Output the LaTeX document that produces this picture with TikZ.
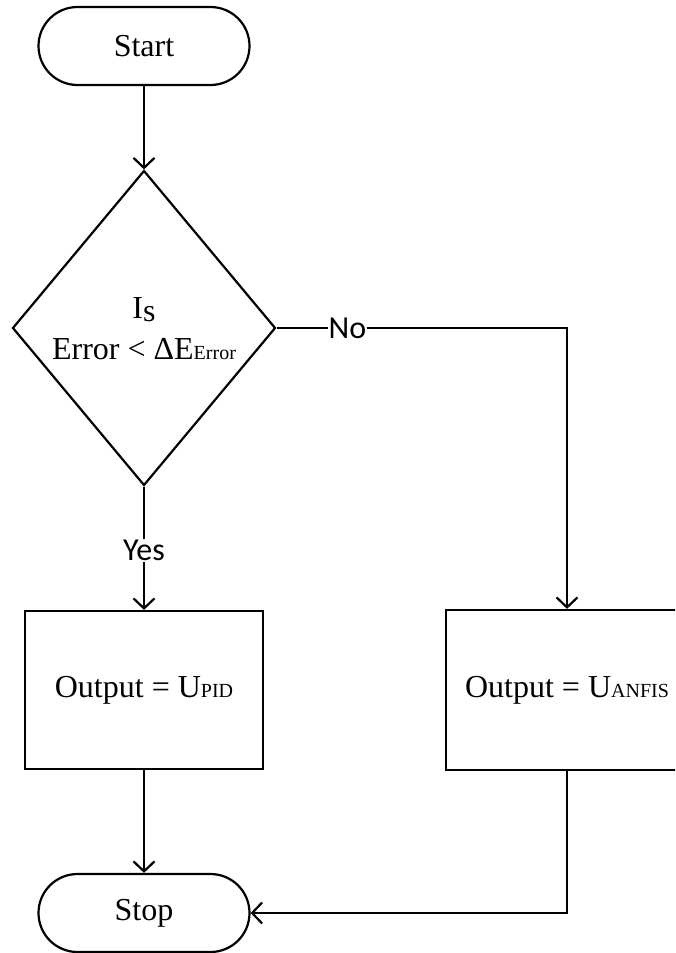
\documentclass[tikz,border=0pt]{standalone}
\usepackage{fontspec}
\setmainfont{Liberation Serif}
\newfontfamily\labfont{Carlito}
\usetikzlibrary{shapes.geometric,arrows.meta}

\tikzset{
  every picture/.style={line width=2.2pt},
  terminal/.style={draw, rounded corners=39pt, minimum width=211pt, minimum height=78pt,
                   inner sep=0pt, font=\fontsize{32}{38}\selectfont},
  process/.style={draw, minimum width=238pt, minimum height=158pt, inner sep=0pt,
                  font=\fontsize{32}{38}\selectfont},
  decision/.style={draw, diamond, minimum width=263pt, minimum height=315pt, inner sep=0pt},
  condtext/.style={anchor=base, inner sep=0pt, font=\fontsize{32}{38}\selectfont},
  flow/.style={-{Straight Barb[length=10pt,width=21pt]}},
  branch/.style={fill=white, inner sep=1pt, font=\labfont\fontsize{32}{38}\selectfont}
}
\newcommand{\smallsub}[1]{{\fontsize{20}{24}\selectfont #1}}

\begin{document}
\begin{tikzpicture}[x=1pt, y=-1pt]
  \useasboundingbox (0,0) rectangle (675,953);
  \clip (0,0) rectangle (675,953);

  % terminals
  \node[terminal] (start) at (144,46) {Start};
  \node[terminal] (stop) at (144,913) {Stop};

  % decision
  \node[decision] (dec) at (144,328) {};
  \node[condtext] (cond1) at (144,318) {I\raisebox{-3pt}{s}};
  \node[condtext] (cond2) at (144,359) {Error < ΔE\smallsub{Error}};

  % processes
  \node[process] (pid) at (144,690) {Output = U\smallsub{PID}};
  \node[process, minimum width=242pt, minimum height=160pt] (anfis) at (567,690)
        {Output = U\smallsub{ANFIS}};

  % connectors
  \draw[flow] (start) -- (dec.north);
  \draw[flow] (dec.south) -- node[branch, pos=0.52] (yes) {Yes} (pid.north);
  \draw[flow] (dec.east) -| node[branch, pos=0.122] (no) {No} (anfis.north);
  \draw[flow] (pid.south) -- (stop.north);
  \draw[flow] (anfis.south) |- (stop.east);
\end{tikzpicture}
\end{document}
